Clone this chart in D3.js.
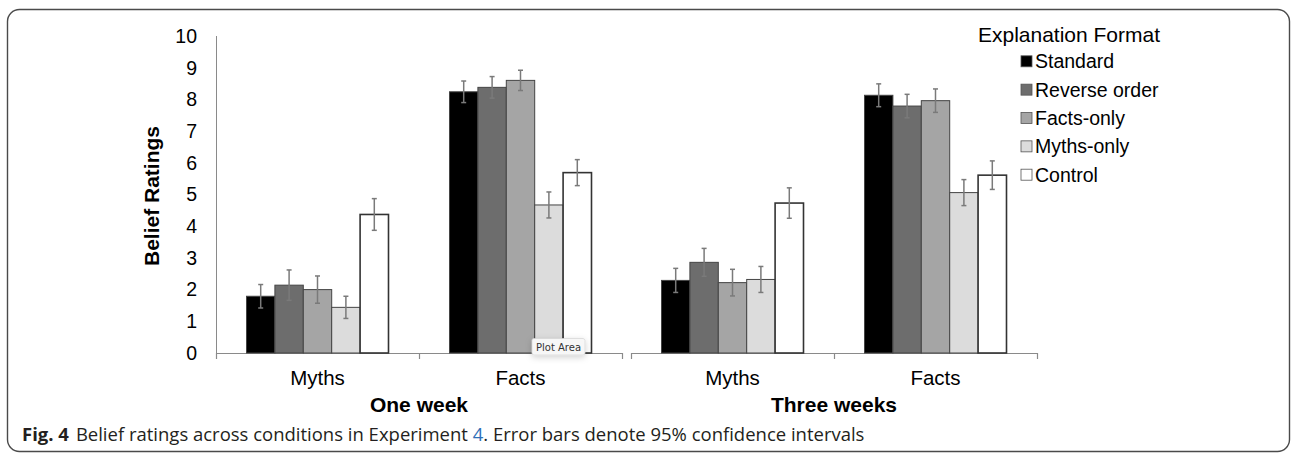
<!DOCTYPE html>
<html><head><meta charset="utf-8">
<script src="https://cdn.jsdelivr.net/npm/d3@7/dist/d3.min.js"></script>
<style>html,body{margin:0;padding:0;background:#fff;}svg{display:block;}</style>
</head><body>
<svg id="chart" width="1292" height="453"></svg>
<script>
// ---- data ----
const groups = ["One week", "Three weeks"];
const categories = ["Myths", "Facts"];
const series = ["Standard", "Reverse order", "Facts-only", "Myths-only", "Control"];
const yTicks = [0, 1, 2, 3, 4, 5, 6, 7, 8, 9, 10];
// order of values: One week Myths, One week Facts, Three weeks Myths, Three weeks Facts
const standardMeans = [1.79, 8.24, 2.29, 8.13];
const reverseMeans  = [2.14, 8.38, 2.86, 7.79];
const factsOnlyMeans = [2.00, 8.60, 2.22, 7.96];
const mythsOnlyMeans = [1.44, 4.67, 2.32, 5.06];
const controlMeans  = [4.37, 5.69, 4.73, 5.61];
const standardCI  = [0.37, 0.34, 0.38, 0.36];
const reverseCI   = [0.48, 0.34, 0.44, 0.37];
const factsOnlyCI = [0.43, 0.32, 0.42, 0.37];
const mythsOnlyCI = [0.35, 0.41, 0.41, 0.41];
const controlCI   = [0.50, 0.41, 0.48, 0.45];
const seriesColors = ["#000000", "#6d6d6d", "#a5a5a5", "#dcdcdc", "#ffffff"];

const allMeans = [standardMeans, reverseMeans, factsOnlyMeans, mythsOnlyMeans, controlMeans];
const allCI = [standardCI, reverseCI, factsOnlyCI, mythsOnlyCI, controlCI];
const rows = [];
groups.forEach((g, gi) => categories.forEach((c, ci) => series.forEach((s, si) => {
  const k = gi * categories.length + ci;
  rows.push({group: g, cat: c, series: s, si, mean: allMeans[si][k], ci: allCI[si][k]});
})));

const svg = d3.select("#chart");
const font = "'Liberation Sans', Arial, Helvetica, sans-serif";

// frame
svg.append("rect").attr("x", 7.5).attr("y", 9.5).attr("width", 1282).attr("height", 442)
  .attr("rx", 12).attr("fill", "none").attr("stroke", "#4a4a4a").attr("stroke-width", 1.4);

// scales
const y = d3.scaleLinear().domain([0, 10]).range([353, 36]);
const xGroup = d3.scaleBand().domain(groups).range([216, 1037]).paddingInner(0.0217).paddingOuter(0);
const xCat = d3.scaleBand().domain(categories).range([0, xGroup.bandwidth()]).padding(0);
const xSer = d3.scaleBand().domain(series).range([0, xCat.bandwidth()]).paddingInner(0).paddingOuter(1.074);

// y axis line
svg.append("line").attr("x1", 216.5).attr("x2", 216.5).attr("y1", y(10)).attr("y2", y(0))
  .attr("stroke", "#8a8a8a").attr("stroke-width", 1);
// y tick labels
svg.append("g").selectAll("text").data(yTicks).join("text")
  .attr("x", 197).attr("y", d => y(d)).attr("dy", "0.35em")
  .attr("text-anchor", "end").attr("font-family", font).attr("font-size", 19.5).attr("fill", "#000")
  .text(d => d);

// y label
svg.append("text").attr("transform", "translate(159,196) rotate(-90)")
  .attr("text-anchor", "middle").attr("font-family", font).attr("font-weight", "bold")
  .attr("font-size", 21).attr("fill", "#000").text("Belief Ratings");

// x axis per group
groups.forEach(g => {
  const x0 = xGroup(g), x1 = x0 + xGroup.bandwidth();
  const ax = svg.append("g");
  ax.append("line").attr("x1", x0).attr("x2", x1).attr("y1", 353.5).attr("y2", 353.5)
    .attr("stroke", "#8a8a8a").attr("stroke-width", 1.2);
  const ticks = [x0, x0 + xCat.bandwidth(), x1];
  ax.selectAll("line.t").data(ticks).join("line").attr("class", "t")
    .attr("x1", d => Math.round(d) + 0.5).attr("x2", d => Math.round(d) + 0.5)
    .attr("y1", 353).attr("y2", 359).attr("stroke", "#8a8a8a").attr("stroke-width", 1.2);
  ax.selectAll("text").data(categories).join("text")
    .attr("x", c => x0 + xCat(c) + xCat.bandwidth() / 2).attr("y", 385)
    .attr("text-anchor", "middle").attr("font-family", font).attr("font-size", 20.5).attr("fill", "#000")
    .text(c => c);
  svg.append("text").attr("x", x0 + xGroup.bandwidth() / 2).attr("y", 412)
    .attr("text-anchor", "middle").attr("font-family", font).attr("font-weight", "bold")
    .attr("font-size", 21).attr("fill", "#000").text(g);
});

// bars
const barX = d => xGroup(d.group) + xCat(d.cat) + xSer(d.series);
svg.append("g").selectAll("rect").data(rows).join("rect")
  .attr("x", barX).attr("width", xSer.bandwidth())
  .attr("y", d => y(d.mean)).attr("height", d => y(0) - y(d.mean))
  .attr("fill", d => seriesColors[d.si])
  .attr("stroke", d => d.si === 4 ? "#333" : "#444")
  .attr("stroke-width", d => d.si === 4 ? 1.6 : 1);

// error bars
const eb = svg.append("g").attr("stroke", "#7a7a7a").attr("stroke-width", 1.5);
rows.forEach(d => {
  const cx = barX(d) + xSer.bandwidth() / 2;
  const t = y(d.mean + d.ci), b = y(d.mean - d.ci);
  eb.append("line").attr("x1", cx).attr("x2", cx).attr("y1", t).attr("y2", b);
  eb.append("line").attr("x1", cx - 2.5).attr("x2", cx + 2.5).attr("y1", t).attr("y2", t);
  eb.append("line").attr("x1", cx - 2.5).attr("x2", cx + 2.5).attr("y1", b).attr("y2", b);
});

// legend
svg.append("text").attr("x", 1069).attr("y", 42).attr("text-anchor", "middle")
  .attr("font-family", font).attr("font-size", 21).attr("fill", "#000").text("Explanation Format");
const lg = svg.append("g").selectAll("g").data(series).join("g")
  .attr("transform", (d, i) => `translate(1021,${68.3 + i * 28.35})`);
lg.append("rect").attr("x", 0).attr("y", -12.5).attr("width", 11).attr("height", 11)
  .attr("fill", (d, i) => seriesColors[i]).attr("stroke", "#555").attr("stroke-width", 0.8);
lg.append("text").attr("x", 14).attr("y", 0).attr("font-family", font).attr("font-size", 19.5)
  .attr("fill", "#000").text(d => d);

// "Plot Area" tooltip (screenshot artefact)
const defs = svg.append("defs");
const f = defs.append("filter").attr("id", "sh").attr("x", "-50%").attr("y", "-80%").attr("width", "200%").attr("height", "260%");
f.append("feDropShadow").attr("dx", 0).attr("dy", 2).attr("stdDeviation", 3).attr("flood-color", "#000").attr("flood-opacity", 0.18);
svg.append("rect").attr("x", 532).attr("y", 338.5).attr("width", 53).attr("height", 16.5).attr("rx", 2)
  .attr("fill", "#f7f7f7").attr("stroke", "#d4d4d4").attr("stroke-width", 0.7).attr("filter", "url(#sh)");
svg.append("text").attr("x", 558.5).attr("y", 351).attr("text-anchor", "middle")
  .attr("font-family", "'DejaVu Sans', sans-serif").attr("font-size", 10).attr("fill", "#333").text("Plot Area");

// caption
const cap = svg.append("text").attr("x", 22).attr("y", 441).attr("font-family", "'Open Sans', 'Noto Sans', sans-serif")
  .attr("font-size", 15).attr("fill", "#231f20");
cap.append("tspan").attr("font-weight", "bold").text("Fig. 4");
cap.append("tspan").attr("dx", 7).text("Belief ratings across conditions in Experiment ");
cap.append("tspan").attr("fill", "#2f6fb7").text("4");
cap.append("tspan").text(". Error bars denote 95% confidence intervals");
const w = cap.node().getComputedTextLength();
cap.attr("font-size", 15 * 836 / w);
</script>
</body></html>
